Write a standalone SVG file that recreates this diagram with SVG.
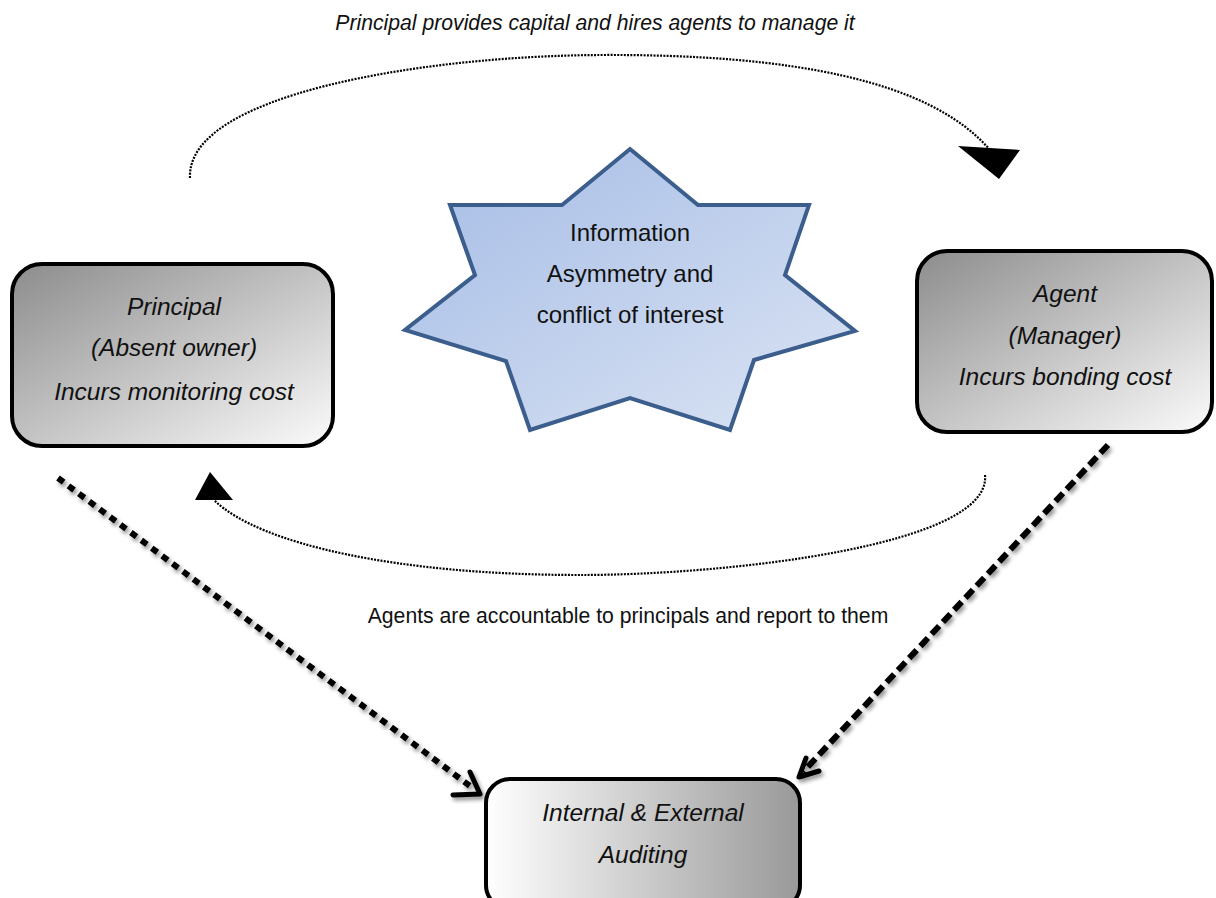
<svg xmlns="http://www.w3.org/2000/svg" width="1216" height="898" viewBox="0 0 1216 898">
  <style>
    .box { stroke: #000; stroke-width: 4; }
    .boxtxt { font-family: "Liberation Sans", Arial, sans-serif; font-style: italic; font-size: 24.5px; fill: #111; text-anchor: middle; }
    .startxt { font-family: "Liberation Sans", Arial, sans-serif; font-size: 24px; fill: #111; text-anchor: middle; }
    .label { font-family: "Liberation Sans", Arial, sans-serif; font-size: 21.2px; fill: #111; text-anchor: middle; }
    .loop { fill: none; stroke: #000; stroke-width: 2.2; stroke-dasharray: 2 1.3; }
    .head { fill: #000; }
    .thick { fill: none; stroke: #000; stroke-width: 6; }
    .chev { fill: none; stroke: #000; stroke-width: 5; stroke-linecap: round; stroke-linejoin: round; }
  </style>
  <defs>
    <linearGradient id="gDiag" x1="0" y1="0" x2="1" y2="1">
      <stop offset="0" stop-color="#8c8c8c"/>
      <stop offset="1" stop-color="#fbfbfb"/>
    </linearGradient>
    <linearGradient id="gHoriz" x1="0" y1="0" x2="1" y2="0">
      <stop offset="0" stop-color="#ffffff"/>
      <stop offset="1" stop-color="#999999"/>
    </linearGradient>
    <linearGradient id="gStar" x1="0" y1="0" x2="1" y2="1">
      <stop offset="0" stop-color="#a5bce6"/>
      <stop offset="1" stop-color="#dbe4f3"/>
    </linearGradient>
    <filter id="shadow" x="-10%" y="-10%" width="120%" height="120%">
      <feGaussianBlur in="SourceAlpha" stdDeviation="2"/>
      <feOffset dx="2" dy="3" result="b"/>
      <feComponentTransfer><feFuncA type="linear" slope="0.45"/></feComponentTransfer>
      <feMerge><feMergeNode/><feMergeNode in="SourceGraphic"/></feMerge>
    </filter>
  </defs>

  <rect width="1216" height="898" fill="#fff"/>

  <!-- connectors -->
  <g id="connectors">
    <!-- capital flow: principal to agent -->
    <path class="loop" d="M190,178 C186,95 420,56 600,55 C790,54 930,80 990,150"/>
    <polygon class="head" points="958,146 1020,150 999,179"/>
    <!-- accountability flow: agent back to principal -->
    <path class="loop" d="M985,475 C992,545 730,575 580,575 C400,575 260,545 214,500"/>
    <polygon class="head" points="195,500 233,500 210,472"/>
    <!-- principal to auditing -->
    <g filter="url(#shadow)">
      <path class="thick" d="M58,478 L474,789" stroke-dasharray="7 6"/>
      <polyline class="chev" points="470,772 480,794 453,795"/>
    </g>
    <!-- agent to auditing -->
    <g filter="url(#shadow)">
      <path class="thick" d="M1108,445 L803,772" stroke-dasharray="11 5.5"/>
      <polyline class="chev" points="806,758 799,777 819,771"/>
    </g>
  </g>

  <g id="label-top">
    <text class="label" x="595" y="30" font-style="italic">Principal provides capital and hires agents to manage it</text>
  </g>
  <g id="label-bottom">
    <text class="label" x="628" y="623">Agents are accountable to principals and report to them</text>
  </g>

  <!-- central star -->
  <g id="star">
    <polygon points="630,149 698,205 809,205 785,275 855,331 754,360 730,430 630,398 530,430 506,361 405,330 475,275 450,205 562,205"
             fill="url(#gStar)" stroke="#3b5e8c" stroke-width="4" stroke-linejoin="miter"/>
    <text class="startxt" x="630" y="241">Information</text>
    <text class="startxt" x="630" y="282">Asymmetry and</text>
    <text class="startxt" x="630" y="323">conflict of interest</text>
  </g>

  <g id="principal">
    <rect class="box" x="12" y="264" width="321" height="182" rx="30" fill="url(#gDiag)"/>
    <text class="boxtxt" x="174" y="315">Principal</text>
    <text class="boxtxt" x="174" y="356">(Absent owner)</text>
    <text class="boxtxt" x="174" y="400">Incurs monitoring cost</text>
  </g>

  <g id="agent">
    <rect class="box" x="917" y="251" width="295" height="181" rx="30" fill="url(#gDiag)"/>
    <text class="boxtxt" x="1065" y="302">Agent</text>
    <text class="boxtxt" x="1065" y="344">(Manager)</text>
    <text class="boxtxt" x="1065" y="385">Incurs bonding cost</text>
  </g>

  <g id="auditing">
    <rect class="box" x="486" y="779" width="314" height="130" rx="24" fill="url(#gHoriz)"/>
    <text class="boxtxt" x="643" y="821">Internal &amp; External</text>
    <text class="boxtxt" x="643" y="863">Auditing</text>
  </g>
</svg>
